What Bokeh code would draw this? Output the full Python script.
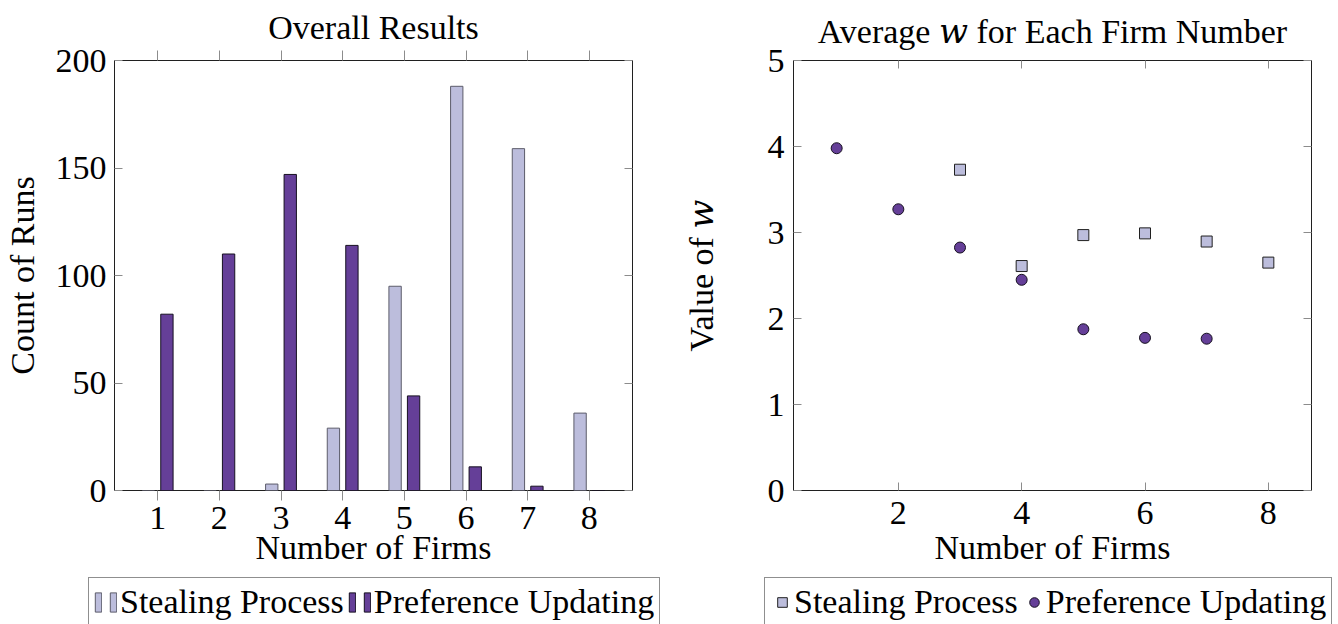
from bokeh.plotting import figure
from bokeh.layouts import row, column
from bokeh.models import (Range1d, LinearAxis, FixedTicker, Legend, LegendItem,
                          ColumnDataSource)
from bokeh.transform import dodge
from bokeh.embed import file_html
from bokeh.resources import INLINE

# ---- data -------------------------------------------------------------
firms = [1, 2, 3, 4, 5, 6, 7, 8]
stealing_counts = [0, 0, 3, 29, 95, 188, 159, 36]
updating_counts = [82, 110, 147, 114, 44, 11, 2, 0]

w_stealing_firms = [3, 4, 5, 6, 7, 8]
w_stealing = [3.73, 2.61, 2.97, 2.99, 2.895, 2.65]
w_updating_firms = [1, 2, 3, 4, 5, 6, 7]
w_updating = [3.98, 3.27, 2.825, 2.45, 1.875, 1.775, 1.765]

count_ticks = [0, 50, 100, 150, 200]
w_ticks = [0, 1, 2, 3, 4, 5]
bar_firm_ticks = [1, 2, 3, 4, 5, 6, 7, 8]
w_firm_ticks = [2, 4, 6, 8]

# ---- style ------------------------------------------------------------
FONT = "Liberation Serif"
MATH_FONT = "Liberation Serif, DejaVu Serif"
FS = "34px"
LIGHT = "#bcbddc"
LIGHT_EDGE = "#5c5c6a"
DARK = "#653f98"
DARK_EDGE = "#161020"
TICK = "#8c8c8c"
EDGE = "#202020"
W_ITALIC = "\U0001D464"

PAGE_W = 1338
FRAME_W, FRAME_H = 518, 430
KEY_H = 47


def style_axis(ax, ticks, tick_in, tick_out, show_labels=True):
    ax.ticker = FixedTicker(ticks=ticks)
    ax.axis_line_color = None
    ax.major_tick_line_color = TICK
    ax.major_tick_line_width = 1
    ax.minor_tick_line_color = None
    ax.major_tick_in = tick_in
    ax.major_tick_out = tick_out
    ax.major_label_text_font = FONT
    ax.major_label_text_color = "black"
    if show_labels:
        ax.major_label_text_font_size = FS
    else:
        ax.major_label_text_font_size = "1px"
        ax.major_label_text_color = None
        ax.major_label_standoff = 0
    ax.axis_label_text_font = MATH_FONT
    ax.axis_label_text_font_size = FS
    ax.axis_label_text_font_style = "normal"
    ax.axis_label_text_color = "black"


def base_figure(title, y_end, border_left, border_right, title_standoff):
    p = figure(
        frame_width=FRAME_W, frame_height=FRAME_H,
        x_range=Range1d(0.3, 8.7), y_range=Range1d(0, y_end),
        min_border_left=border_left, min_border_right=border_right,
        min_border_top=60, min_border_bottom=87,
        output_backend="svg", toolbar_location=None,
    )
    p.grid.visible = False
    p.outline_line_color = EDGE
    p.outline_line_width = 1
    p.title.text = title
    p.title.text_font = MATH_FONT
    p.title.text_font_size = FS
    p.title.text_font_style = "normal"
    p.title.text_color = "black"
    p.title.align = "center"
    p.title.standoff = title_standoff
    return p


def style_legend(leg, glyph_w, glyph_h, standoff, loc):
    leg.orientation = "horizontal"
    leg.location = loc
    leg.label_text_font = FONT
    leg.label_text_font_size = FS
    leg.label_text_color = "black"
    leg.label_standoff = standoff
    leg.label_width = 0
    leg.label_height = 0
    leg.spacing = 4
    leg.padding = 5
    leg.margin = 0
    leg.glyph_width = glyph_w
    leg.glyph_height = glyph_h
    leg.border_line_color = EDGE
    leg.border_line_width = 1
    leg.background_fill_color = "white"
    leg.background_fill_alpha = 1


# ---- left: bar counts ---------------------------------------------------
src = ColumnDataSource(dict(firm=firms, stealing=stealing_counts, updating=updating_counts))

p1 = base_figure("Overall Results", 200, 114, 39, 10)
p1.vbar(x=dodge("firm", -0.15), top="stealing", width=0.2, source=src,
        fill_color=LIGHT, line_color=LIGHT_EDGE, line_width=1)
p1.vbar(x=dodge("firm", 0.15), top="updating", width=0.2, source=src,
        fill_color=DARK, line_color=DARK_EDGE, line_width=1)

style_axis(p1.xaxis[0], bar_firm_ticks, 0, 10)
style_axis(p1.yaxis[0], count_ticks, 8, 0)
p1.xaxis[0].axis_label = "Number of Firms"
p1.yaxis[0].axis_label = "Count of Runs"
p1.xaxis[0].major_label_standoff = 6
p1.xaxis[0].axis_label_standoff = -3
p1.yaxis[0].major_label_standoff = 8
p1.yaxis[0].axis_label_standoff = 12

top1 = LinearAxis()
style_axis(top1, bar_firm_ticks, 0, 10, show_labels=False)
p1.add_layout(top1, "above")
right1 = LinearAxis()
style_axis(right1, count_ticks, 8, 0, show_labels=False)
p1.add_layout(right1, "right")

# ---- right: average w ---------------------------------------------------
stealing_src = ColumnDataSource(dict(firm=w_stealing_firms, w=w_stealing))
updating_src = ColumnDataSource(dict(firm=w_updating_firms, w=w_updating))

p2 = base_figure("Average " + W_ITALIC + " for Each Firm Number", 5, 122, 26, 21)
p2.scatter("firm", "w", source=stealing_src, marker="square", size=11,
           fill_color=LIGHT, line_color=EDGE, line_width=1)
p2.scatter("firm", "w", source=updating_src, marker="circle", size=11,
           fill_color=DARK, line_color=DARK_EDGE, line_width=1)

style_axis(p2.xaxis[0], w_firm_ticks, 8, 0)
style_axis(p2.yaxis[0], w_ticks, 8, 0)
p2.xaxis[0].axis_label = "Number of Firms"
p2.yaxis[0].axis_label = "Value of " + W_ITALIC
p2.xaxis[0].major_label_standoff = 11
p2.xaxis[0].axis_label_standoff = 2
p2.yaxis[0].major_label_standoff = 9
p2.yaxis[0].axis_label_standoff = 45

top2 = LinearAxis()
style_axis(top2, w_firm_ticks, 8, 0, show_labels=False)
p2.add_layout(top2, "above")
right2 = LinearAxis()
style_axis(right2, w_ticks, 8, 0, show_labels=False)
p2.add_layout(right2, "right")

# ---- key strip under both charts -----------------------------------------
# the strip's ranges lie below and left of all data, so only its legends show
key = figure(width=PAGE_W, height=KEY_H, min_border_left=0, min_border_right=0,
             min_border_top=0, min_border_bottom=0,
             x_range=Range1d(-3, -2), y_range=Range1d(-3, -2),
             output_backend="svg", toolbar_location=None)
key.axis.visible = False
key.grid.visible = False
key.outline_line_color = None

k_steal = key.vbar(x="firm", top="stealing", width=0.2, source=src,
                   fill_color=LIGHT, line_color=LIGHT_EDGE, line_width=1)
k_upd = key.vbar(x="firm", top="updating", width=0.2, source=src,
                 fill_color=DARK, line_color=DARK_EDGE, line_width=1)
k_sq = key.scatter("firm", "w", source=stealing_src, marker="square", size=11,
                   fill_color=LIGHT, line_color=EDGE, line_width=1)
k_ci = key.scatter("firm", "w", source=updating_src, marker="circle", size=11,
                   fill_color=DARK, line_color=DARK_EDGE, line_width=1)

# each bar entry shows a pair of bars, as a grouped-bar key does
leg1 = Legend(items=[LegendItem(label="", renderers=[k_steal]),
                     LegendItem(label="Stealing Process", renderers=[k_steal]),
                     LegendItem(label="", renderers=[k_upd]),
                     LegendItem(label="Preference Updating", renderers=[k_upd])])
style_legend(leg1, 8, 24, 3, (88, -3))
key.add_layout(leg1)

leg2 = Legend(items=[LegendItem(label="Stealing Process", renderers=[k_sq]),
                     LegendItem(label="Preference Updating", renderers=[k_ci])])
style_legend(leg2, 24, 28, -5, (764, -3))
key.add_layout(leg2)

layout = column(row(p1, p2), key)
open("out.html", "w").write(file_html(layout, INLINE))
